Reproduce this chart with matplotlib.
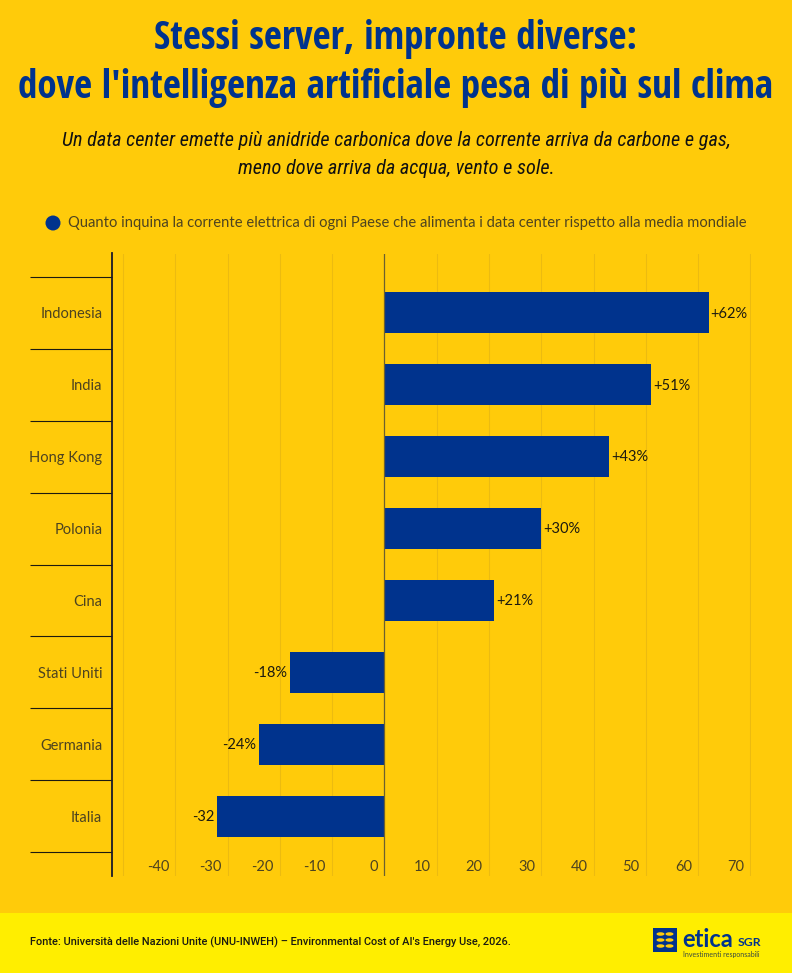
import matplotlib
matplotlib.use("Agg")
import matplotlib.pyplot as plt
from matplotlib.patches import Rectangle, Ellipse
from matplotlib.ticker import FixedLocator, NullFormatter

W, H = 792, 973

countries = ["Indonesia", "India", "Hong Kong", "Polonia", "Cina", "Stati Uniti", "Germania", "Italia"]
values = [62, 51, 43, 30, 21, -18, -24, -32]
value_labels = ["+62%", "+51%", "+43%", "+30%", "+21%", "-18%", "-24%", "-32"]
x_ticks = [-40, -30, -20, -10, 0, 10, 20, 30, 40, 50, 60, 70]
grid_values = [-50, -40, -30, -20, -10, 10, 20, 30, 40, 50, 60, 70]

BG = "#ffcb0a"
FOOT = "#ffee00"
BLUE = "#00338d"
SOFT = "#4d4320"
CONDENSED = ["Open Sans Condensed", "DejaVu Sans"]
BODY = ["Lato", "DejaVu Sans"]


# pixel helpers, y measured from the top of the image
def fx(px):
    return px / W


def fy(py):
    return 1 - py / H


fig = plt.figure(figsize=(W / 100, H / 100), dpi=100, facecolor=BG)
fig.patches.append(Rectangle((0, 0), 1, fy(913), transform=fig.transFigure, color=FOOT, lw=0))

# chart area
ax = fig.add_axes([fx(112), fy(875.5), fx(751 - 112), (876 - 254) / H])
ax.set_facecolor("none")
ax.set_xlim(-52.1, 70.1)
band = 71.9
ax.set_ylim(7.5 + (876 - 852.5) / band, -0.5 - (277.5 - 254) / band)

ax.barh(range(len(countries)), values, height=0.57, color=BLUE, zorder=3)

for g in grid_values:
    ax.axvline(g, color="#ecbb10", lw=0.75, zorder=1)
ax.axvline(0, color="#6b6030", lw=0.9, zorder=4)

for i, (v, lab) in enumerate(zip(values, value_labels)):
    ax.annotate(lab, (v, i), xytext=(1.3 if v > 0 else -2, -0.5), textcoords="offset points",
                ha="left" if v > 0 else "right", va="center", fontsize=10.5,
                family=BODY, color="#1c1a10")

for t in x_ticks:
    ax.annotate(str(t), (t, 0), xycoords=("data", "axes fraction"), xytext=(-4.5, 0.8),
                textcoords="offset points", ha="right", va="bottom", fontsize=10.5,
                family=BODY, color=SOFT)

for s in ["top", "right", "bottom"]:
    ax.spines[s].set_visible(False)
ax.spines["left"].set_linewidth(1.3)
ax.spines["left"].set_color("#1a1a2a")
ax.set_xticks([])

ax.yaxis.set_major_locator(FixedLocator([i - 0.5 for i in range(len(countries) + 1)]))
ax.yaxis.set_major_formatter(NullFormatter())
ax.yaxis.set_minor_locator(FixedLocator(range(len(countries))))
ax.set_yticklabels(countries, minor=True, fontsize=10.5, family=BODY, color=SOFT)
ax.tick_params(axis="y", which="major", length=59, width=0.8, color="#1c1a10")
ax.tick_params(axis="y", which="minor", length=0, pad=7)

# heading
fig.text(0.5, fy(39), "Stessi server, impronte diverse:", ha="center", va="center",
         fontsize=28.2, fontweight="bold", family=CONDENSED, color=BLUE)
fig.text(0.5, fy(88), "dove l'intelligenza artificiale pesa di più sul clima", ha="center", va="center",
         fontsize=28.2, fontweight="bold", family=CONDENSED, color=BLUE)
fig.text(0.5, fy(140), "Un data center emette più anidride carbonica dove la corrente arriva da carbone e gas,",
         ha="center", va="center", fontsize=14.55, style="italic",
         family=["Roboto Condensed", "DejaVu Sans"], color="#111111")
fig.text(0.5, fy(168), "meno dove arriva da acqua, vento e sole.",
         ha="center", va="center", fontsize=14.55, style="italic",
         family=["Roboto Condensed", "DejaVu Sans"], color="#111111")

# legend
fig.patches.append(Ellipse((fx(53), fy(223)), 15 / W, 15 / H, transform=fig.transFigure, color=BLUE, lw=0))
fig.text(fx(68), fy(223), "Quanto inquina la corrente elettrica di ogni Paese che alimenta i data center rispetto alla media mondiale",
         ha="left", va="center", fontsize=10.65, family=BODY, color=SOFT)

# source
fig.text(fx(30), fy(942), "Fonte: Università delle Nazioni Unite (UNU-INWEH) – Environmental Cost of AI's Energy Use, 2026.",
         ha="left", va="center", fontsize=7.9, fontweight="medium", family=["Roboto", "DejaVu Sans"], color="#1a1a10")

# logo
fig.patches.append(Rectangle((fx(653), fy(952)), 24 / W, 24 / H, transform=fig.transFigure, color=BLUE, lw=0))
for row in (934, 940, 946):
    for cx in (660.5, 669.5):
        fig.patches.append(Ellipse((fx(cx), fy(row)), 8 / W, 3.5 / H, transform=fig.transFigure, color=BG, lw=0))
fig.text(fx(682), fy(939.5), "etica", ha="left", va="center", fontsize=17, fontweight="bold",
         family=BODY, color=BLUE)
fig.text(fx(738), fy(943), "SGR", ha="left", va="center", fontsize=8.8, fontweight="bold",
         family=BODY, color=BLUE)
fig.text(fx(683), fy(954), "Investimenti responsabili", ha="left", va="center", fontsize=5,
         family=BODY, color="#3a4a40")

fig.savefig("out.png", dpi=100, facecolor=BG)
